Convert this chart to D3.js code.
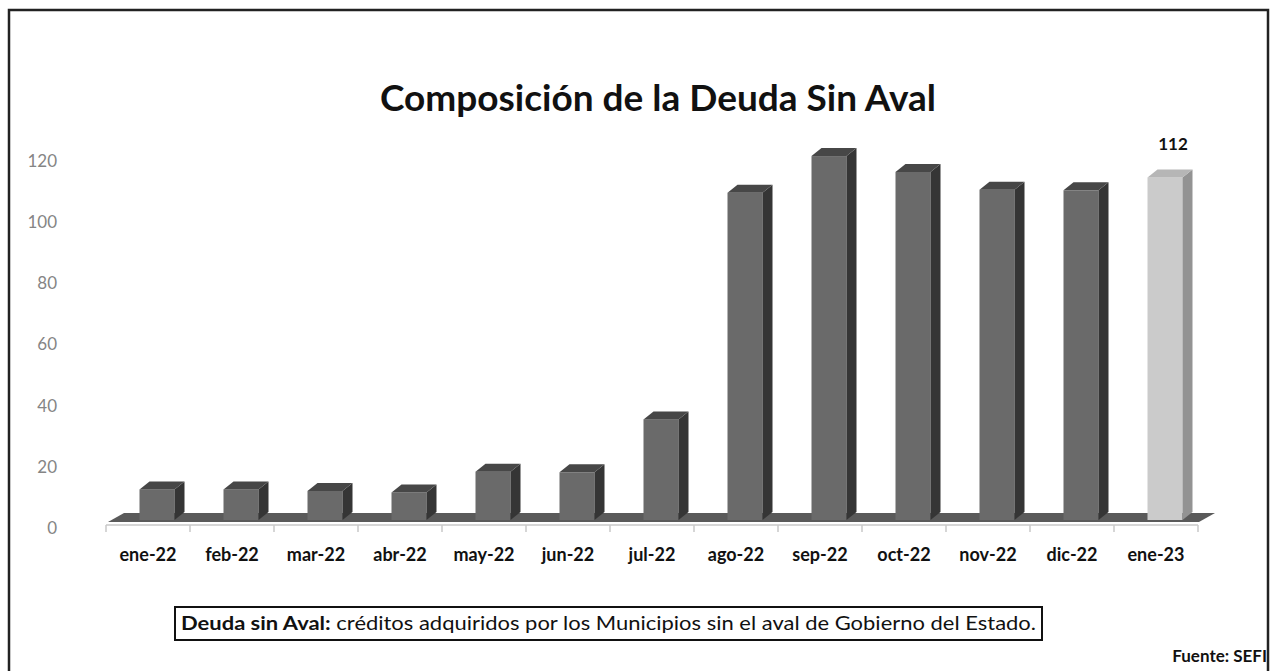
<!DOCTYPE html>
<html>
<head>
<meta charset="utf-8">
<script src="https://cdn.jsdelivr.net/npm/d3@7"></script>
<style>
  body { margin:0; background:#fff; }
  svg text { font-family: Lato, "Open Sans", sans-serif; }
</style>
</head>
<body>
<svg id="chart" width="1274" height="671"></svg>
<script>
/************************************ Data *******************************/
var meses = ["ene-22","feb-22","mar-22","abr-22","may-22","jun-22","jul-22","ago-22","sep-22","oct-22","nov-22","dic-22","ene-23"];
var deuda = [10, 10, 9.5, 9, 15.8, 15.6, 32.9, 107, 119, 113.8, 108, 107.8, 112];
var yTicks = [0, 20, 40, 60, 80, 100, 120];
var titulo = "Composición de la Deuda Sin Aval";

/************************************ Scales *******************************/
var svg = d3.select("#chart");
var x = d3.scaleBand().domain(meses).range([106, 1198]);
var y = d3.scaleLinear().domain([0, 120]).range([520, 153]);
var dx = 10, dy = 8, barW = 35, barShift = 9;

// marco exterior
svg.append("rect").attr("x", 9).attr("y", 10).attr("width", 1259).attr("height", 700)
   .attr("fill", "none").attr("stroke", "#222").attr("stroke-width", 2.5);

svg.append("text").attr("x", 658).attr("y", 111).attr("text-anchor", "middle")
   .attr("font-size", 37).attr("font-weight", "bold").attr("fill", "#111").text(titulo);

// etiquetas eje y
svg.selectAll(".ylab").data(yTicks).enter().append("text")
   .attr("class", "ylab").attr("x", 57).attr("y", function(d){ return y(d) + 8; })
   .attr("dy", "0.35em").attr("text-anchor", "end")
   .attr("font-size", 17).attr("fill", "#858585").text(function(d){ return d; });

// piso
var floorPath = d3.path();
floorPath.moveTo(108, y(0) + 2); floorPath.lineTo(124, y(0) - 7);
floorPath.lineTo(1215, y(0) - 7); floorPath.lineTo(1199, y(0) + 2); floorPath.closePath();
svg.append("path").attr("d", floorPath.toString()).attr("fill", "#5a5a5a");

// eje x
var axisG = svg.append("g").attr("transform", "translate(0," + (y(0) + 5) + ")");
axisG.append("line").attr("x1", 106).attr("x2", 1198).attr("stroke", "#c8c8c8").attr("stroke-width", 1.5);
axisG.selectAll(".tk").data(meses.concat(["_end"])).enter().append("line")
   .attr("x1", function(d, i){ return i < meses.length ? x(d) : x.range()[1]; })
   .attr("x2", function(d, i){ return i < meses.length ? x(d) : x.range()[1]; })
   .attr("y1", 0).attr("y2", 7).attr("stroke", "#c8c8c8").attr("stroke-width", 1.5);

svg.selectAll(".xlab").data(meses).enter().append("text")
   .attr("x", function(d){ return x(d) + x.bandwidth() / 2; }).attr("y", 561)
   .attr("text-anchor", "middle").attr("font-size", 18).attr("font-weight", "bold")
   .attr("fill", "#111").text(function(d){ return d; });

/************************************ Barras 3D *******************************/
var bars = svg.selectAll(".bar").data(meses).enter().append("g").attr("class", "bar");
bars.each(function(d, i){
  var g = d3.select(this);
  var last = i === meses.length - 1;
  var x0 = x(d) + x.bandwidth() / 2 + barShift - barW / 2, x1 = x0 + barW;
  var yt = y(deuda[i]), yb = y(0);
  g.append("rect").attr("x", x0).attr("y", yt).attr("width", barW).attr("height", yb - yt)
   .attr("fill", last ? "#cbcbcb" : "#6a6a6a");
  g.append("polygon").attr("points", [[x1, yt], [x1 + dx, yt - dy], [x1 + dx, yb - dy], [x1, yb]].join(" "))
   .attr("fill", last ? "#939393" : "#353535");
  g.append("polygon").attr("points", [[x0, yt], [x0 + dx, yt - dy], [x1 + dx, yt - dy], [x1, yt]].join(" "))
   .attr("fill", last ? "#b6b6b6" : "#474747");
});

svg.append("text").attr("x", x(meses[12]) + x.bandwidth() / 2 + 17).attr("y", 150)
   .attr("text-anchor", "middle").attr("font-size", 17).attr("font-weight", "bold")
   .attr("fill", "#111").text(deuda[12]);

/************************************ Nota *******************************/
svg.append("rect").attr("x", 175).attr("y", 607).attr("width", 867).attr("height", 33)
   .attr("fill", "none").attr("stroke", "#111").attr("stroke-width", 2);
var nota = svg.append("text").attr("x", 181).attr("y", 630).attr("font-size", 19)
   .attr("fill", "#111").attr("textLength", 855).attr("lengthAdjust", "spacingAndGlyphs");
nota.append("tspan").attr("font-weight", "bold").text("Deuda sin Aval:");
nota.append("tspan").text(" créditos adquiridos por los Municipios sin el aval de Gobierno del Estado.");

svg.append("text").attr("x", 1267).attr("y", 662).attr("text-anchor", "end")
   .attr("font-size", 17).attr("font-weight", "bold").attr("fill", "#111").text("Fuente: SEFI");
</script>
</body>
</html>
